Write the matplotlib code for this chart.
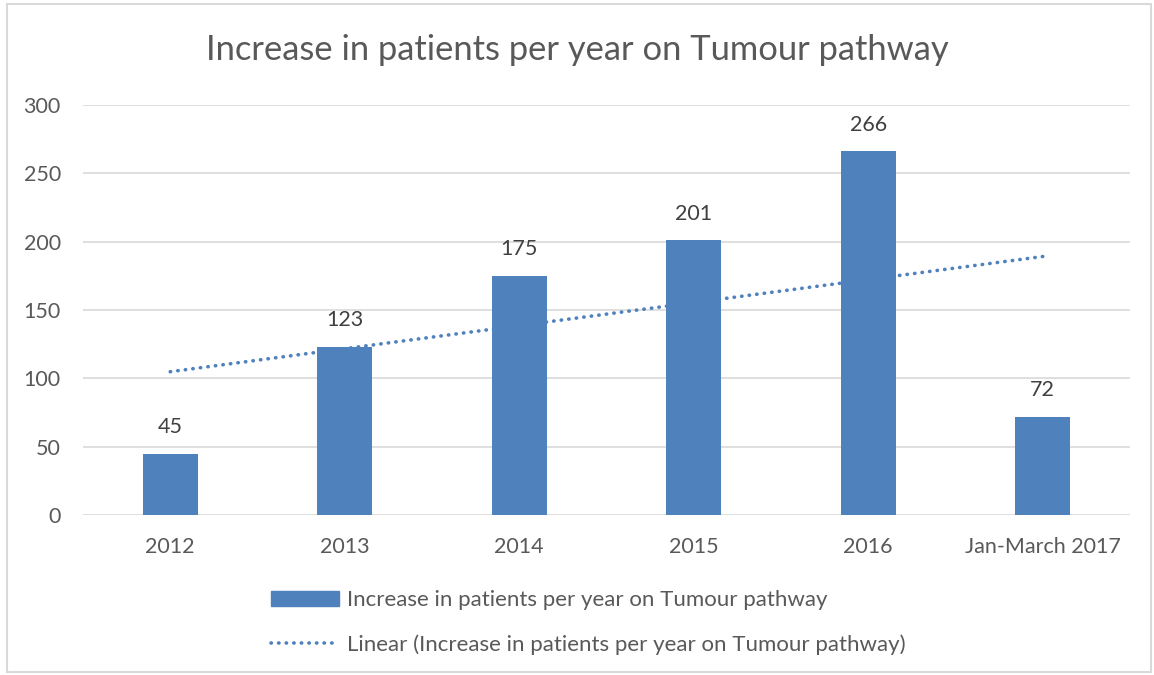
import numpy as np
import matplotlib.pyplot as plt
from matplotlib.patches import Rectangle
from matplotlib.lines import Line2D

CATEGORIES = ["2012", "2013", "2014", "2015", "2016", "Jan-March 2017"]
PATIENTS = [45, 123, 175, 201, 266, 72]
Y_TICKS = [0, 50, 100, 150, 200, 250, 300]

TITLE = "Increase in patients per year on Tumour pathway"
SERIES_LABEL = "Increase in patients per year on Tumour pathway"
TREND_LABEL = "Linear (Increase in patients per year on Tumour pathway)"

BAR_COLOR = "#4f81bd"
TEXT_COLOR = "#595959"
GRID_COLOR = "#d9d9d9"

plt.rcParams["font.family"] = ["Lato", "DejaVu Sans"]

fig = plt.figure(figsize=(11.54, 6.75), dpi=100)
ax = fig.add_axes([83 / 1154, 1 - 515 / 675, 1047 / 1154, 410 / 675])

x = np.arange(len(CATEGORIES))
ax.bar(x, PATIENTS, width=0.315, color=BAR_COLOR, zorder=2)

# linear trendline (least squares, like Excel)
xs = x + 1
slope, intercept = np.polyfit(xs, PATIENTS, 1)
trend = slope * xs + intercept
ax.plot(x, trend, color=BAR_COLOR, lw=2.6, linestyle=(0, (0.1, 2.0)),
        dash_capstyle="round", zorder=3)

for xi, v in zip(x, PATIENTS):
    ax.text(xi, v + 12, str(v), ha="center", va="bottom", fontsize=15.5,
            color="#404040")

ax.set_xlim(-0.5, len(CATEGORIES) - 0.5)
ax.set_ylim(0, 300)
ax.set_yticks(Y_TICKS)
ax.set_xticks(x)
ax.set_xticklabels(CATEGORIES)
ax.tick_params(axis="both", length=0, labelsize=15.5, labelcolor=TEXT_COLOR)
ax.tick_params(axis="y", pad=16)
ax.tick_params(axis="x", pad=16)
ax.grid(axis="y", color=GRID_COLOR, lw=1.2, zorder=0)
ax.set_axisbelow(True)
for s in ax.spines.values():
    s.set_visible(False)

fig.text(0.5, 1 - 50 / 675, TITLE, ha="center", va="center", fontsize=24.8,
         color=TEXT_COLOR)

handles = [Rectangle((0, 0), 1, 1, color=BAR_COLOR),
           Line2D([], [], color=BAR_COLOR, lw=2.6, linestyle=(0, (0.1, 2.0)),
                  dash_capstyle="round")]
fig.legend(handles, [SERIES_LABEL, TREND_LABEL], loc="upper left",
           bbox_to_anchor=(271 / 1154, 1 - 590 / 675), frameon=False,
           borderpad=0, borderaxespad=0,
           fontsize=16, labelcolor=TEXT_COLOR, handlelength=3.05,
           handleheight=0.65, handletextpad=0.36, labelspacing=1.1)

fig.add_artist(Rectangle((7 / 1154, 0.004), 1 - 10 / 1154, 0.99,
                         transform=fig.transFigure, fill=False,
                         edgecolor="#d9d9d9", lw=1.5))

fig.savefig("out.png", dpi=100, facecolor="white")
